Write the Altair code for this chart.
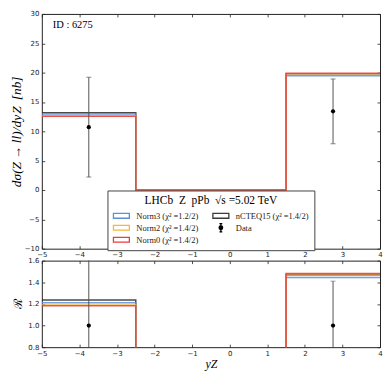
import altair as alt
import pandas as pd

# ---------------- data ----------------
bin_edges = [-5.0, -2.5, 1.5, 4.0]
series_names = ["nCTEQ15", "Norm3", "Norm2", "Norm0"]          # drawing order
series_colors = ["#2a2a2a", "#5b8fdc", "#f7b73b", "#ee3b3b"]

xsec_nCTEQ15 = [13.15, 0.0, 19.80]
xsec_norm3 = [12.95, 0.0, 19.45]
xsec_norm2 = [12.60, 0.0, 19.82]
xsec_norm0 = [12.55, 0.0, 19.88]

ratio_nCTEQ15 = [1.235, 0.0, 1.470]
ratio_norm3 = [1.210, 0.0, 1.445]
ratio_norm2 = [1.190, 0.0, 1.476]
ratio_norm0 = [1.183, 0.0, 1.482]

data_yz = [-3.75, 2.75]
data_xsec = [10.7, 13.4]
data_err = [8.5, 5.5]

x_ticks = [-5, -4, -3, -2, -1, 0, 1, 2, 3, 4]
top_y_ticks = [-10, -5, 0, 5, 10, 15, 20, 25, 30]
bottom_y_ticks = [0.8, 1.0, 1.2, 1.4, 1.6]

# legend entries in column-major order (col 1: Norm3, Norm2, Norm0; col 2: nCTEQ15, Data)
legend_entries = ["Norm3 (χ² =1.2/2)", "Norm2 (χ² =1.4/2)", "Norm0 (χ² =1.4/2)",
                  "nCTEQ15 (χ² =1.4/2)", "Data"]
legend_strokes = ["#5b8fdc", "#f7b73b", "#ee3b3b", "#3a3a3a", "#000000"]
legend_fills = ["transparent", "transparent", "transparent", "transparent", "#000000"]
legend_title = "LHCb\u00a0\u00a0Z\u00a0\u00a0pPb\u00a0\u00a0√s =5.02 TeV"
id_text = "ID : 6275"

RECT = "M-2,-0.6H2V0.6H-2Z"
ERRB = ("M0,-1.05V1.05M-0.35,-1.05H0.35M-0.35,1.05H0.35"
        "M-0.45,0A0.45,0.45 0 1,0 0.45,0A0.45,0.45 0 1,0 -0.45,0Z")
legend_shapes = [RECT, RECT, RECT, RECT, ERRB]

SERIF = "Liberation Serif"
W = 340
H_TOP = 236
H_BOT = 87


def inner_axis(orient, values, labels=True, title=None, **kw):
    return alt.Axis(orient=orient, values=values, offset=-3, tickSize=3, domain=False,
                    labels=labels, title=title, grid=False, labelFlush=False,
                    labelOverlap=False, **kw)


def panel(series_vals, y_domain, y_ticks, height, ylab_fmt, y_title, y_title_kw,
          x_title, ratio_mode, with_legend):
    xsc = alt.Scale(domain=[-5, 4], nice=False, zero=False)
    ysc = alt.Scale(domain=y_domain, nice=False, zero=False)
    x_axis_b = inner_axis("bottom", x_ticks, labelPadding=2,
                          title=x_title, titleFont=SERIF, titleFontSize=12,
                          titleFontStyle="italic", titleFontWeight="normal",
                          titlePadding=2.5)
    y_axis_l = inner_axis("left", y_ticks, labelPadding=3, format=ylab_fmt,
                          title=y_title, **y_title_kw)
    x_axis_t = inner_axis("top", x_ticks, labels=False)
    y_axis_r = inner_axis("right", y_ticks, labels=False)

    layers = []
    for i, (name, vals, col) in enumerate(zip(series_names, series_vals, series_colors)):
        df = pd.DataFrame({"x": bin_edges, "y": list(vals) + [vals[-1]]})
        layers.append(
            alt.Chart(df).mark_line(interpolate="step-after", color=col, strokeWidth=1.5,
                                    opacity=0.85, clip=True)
            .encode(x=alt.X("x:Q", scale=xsc, axis=x_axis_b if i == 0 else None),
                    y=alt.Y("y:Q", scale=ysc, axis=y_axis_l if i == 0 else None))
        )

    if ratio_mode:
        yv = [1.0 for _ in data_xsec]
        lo = [1.0 - e / v for e, v in zip(data_err, data_xsec)]
        hi = [1.0 + e / v for e, v in zip(data_err, data_xsec)]
    else:
        yv = list(data_xsec)
        lo = [v - e for v, e in zip(data_xsec, data_err)]
        hi = [v + e for v, e in zip(data_xsec, data_err)]
    edf = pd.DataFrame({"x": data_yz, "y": yv, "lo": lo, "hi": hi})

    rule = alt.Chart(edf).mark_rule(color="#555555", strokeWidth=1, clip=True).encode(
        x=alt.X("x:Q", scale=xsc, axis=x_axis_t),
        y=alt.Y("lo:Q", scale=ysc, axis=y_axis_r),
        y2="hi:Q",
    )
    caps = alt.Chart(edf).transform_fold(["lo", "hi"], as_=["k", "v"]).mark_tick(
        orient="horizontal", size=5, thickness=1, color="#555555", clip=True
    ).encode(x=alt.X("x:Q", scale=xsc, axis=None), y=alt.Y("v:Q", scale=ysc, axis=None))
    pts = alt.Chart(edf).mark_circle(size=18, color="black", opacity=1).encode(
        x=alt.X("x:Q", scale=xsc, axis=None), y=alt.Y("y:Q", scale=ysc, axis=None))
    layers += [rule, caps, pts]

    if with_legend:
        leg = alt.Legend(
            title=legend_title, orient="none", legendX=66, legendY=H_TOP * 0.75 + 0.5,
            columns=2, columnPadding=11, rowPadding=0, padding=5, fillColor="white",
            strokeColor="#444444", symbolSize=64, symbolOffset=4, symbolStrokeWidth=1.3,
            symbolOpacity=1, labelFont=SERIF, labelFontSize=8.5, labelColor="#222222",
            labelOffset=10, titleFont=SERIF, titleFontSize=11.5, titleFontWeight="normal",
            titleAnchor="middle", titlePadding=4, titleColor="black", cornerRadius=0,
        )
        ldf = pd.DataFrame({"entry": legend_entries})
        legend_layer = alt.Chart(ldf).mark_point(opacity=0, filled=False).encode(
            stroke=alt.Stroke("entry:N", scale=alt.Scale(domain=legend_entries, range=legend_strokes), legend=leg),
            fill=alt.Fill("entry:N", scale=alt.Scale(domain=legend_entries, range=legend_fills), legend=leg),
            shape=alt.Shape("entry:N", scale=alt.Scale(domain=legend_entries, range=legend_shapes), legend=leg),
        )
        tdf = pd.DataFrame({"t": [id_text]})
        id_layer = alt.Chart(tdf).mark_text(align="left", baseline="middle", font=SERIF,
                                            fontSize=10.5, color="black").encode(
            text="t:N", x=alt.value(11), y=alt.value(11))
        layers += [legend_layer, id_layer]

    return alt.layer(*layers).resolve_axis(x="independent", y="independent").properties(
        width=W, height=height)


top = panel([xsec_nCTEQ15, xsec_norm3, xsec_norm2, xsec_norm0], [-10, 30], top_y_ticks, H_TOP,
            "d", "dσ(Z\u2009→\u2009ll)/dy\u200aZ\u2009\u00a0[nb]",
            dict(titleFont=SERIF, titleFontSize=13.5, titleFontStyle="italic",
                 titleFontWeight="normal", titlePadding=1),
            None, False, True)
bottom = panel([ratio_nCTEQ15, ratio_norm3, ratio_norm2, ratio_norm0], [0.8, 1.6],
               bottom_y_ticks, H_BOT, ".1f", "ℛ",
               dict(titleFont="DejaVu Serif", titleFontSize=12, titleFontWeight="normal",
                    titlePadding=3),
               "yZ", True, False)

chart = alt.vconcat(top, bottom, spacing=12, bounds="flush").properties(
    padding={"left": 0, "top": 0, "right": 0, "bottom": 0}
).configure_view(stroke="#222222", strokeWidth=1).configure_axis(
    labelFont="DejaVu Sans", labelFontSize=7, labelColor="#222222",
    tickColor="#222222", tickWidth=0.8, grid=False
)

chart.save("out.html", embed_options={"renderer": "svg", "actions": False})
